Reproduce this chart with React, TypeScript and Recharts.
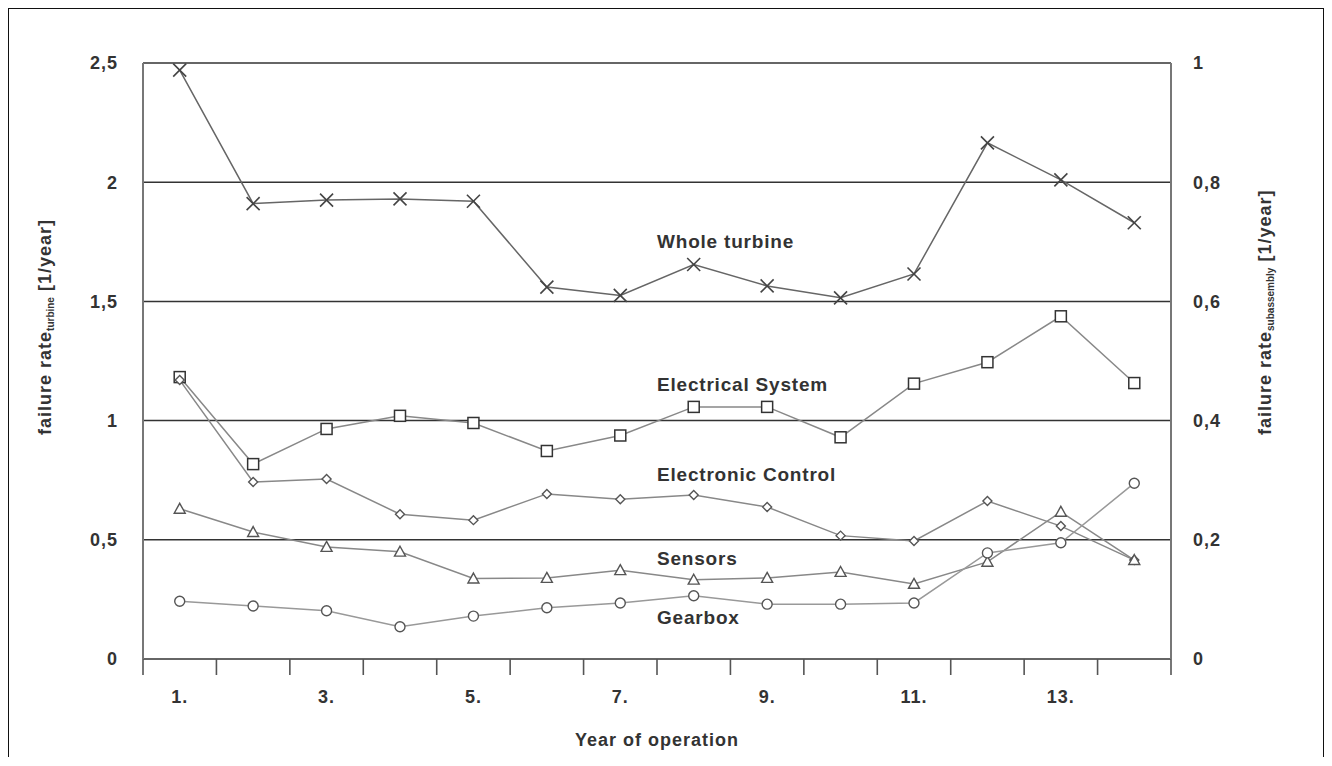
import React from "react";
import { LineChart, Line, XAxis, YAxis, CartesianGrid, ReferenceDot } from "recharts";

const years = [1, 2, 3, 4, 5, 6, 7, 8, 9, 10, 11, 12, 13, 14];
const xTickYears = [1, 3, 5, 7, 9, 11, 13];
const leftTicks = [0, 0.5, 1, 1.5, 2, 2.5];
const rightTicks = [0, 0.2, 0.4, 0.6, 0.8, 1];

// left axis [1/year]
const wholeTurbine = [2.47, 1.91, 1.925, 1.93, 1.92, 1.56, 1.525, 1.655, 1.565, 1.515, 1.615, 2.165, 2.01, 1.83];
// right axis [1/year]
const electricalSystem = [0.473, 0.327, 0.386, 0.408, 0.396, 0.349, 0.375, 0.423, 0.423, 0.372, 0.462, 0.498, 0.575, 0.463];
const electronicControl = [0.468, 0.297, 0.302, 0.243, 0.233, 0.277, 0.268, 0.275, 0.255, 0.207, 0.198, 0.265, 0.223, 0.166];
const sensors = [0.252, 0.213, 0.188, 0.18, 0.135, 0.136, 0.149, 0.133, 0.136, 0.146, 0.126, 0.163, 0.247, 0.166];
const gearbox = [0.097, 0.089, 0.081, 0.054, 0.072, 0.086, 0.094, 0.106, 0.092, 0.092, 0.094, 0.178, 0.195, 0.295];

const data = years.map((year, i) => ({
  year,
  whole: wholeTurbine[i],
  electrical: electricalSystem[i],
  electronic: electronicControl[i],
  sensors: sensors[i],
  gearbox: gearbox[i],
}));

const bounds = [...years.map((y) => y - 0.5), years[years.length - 1] + 0.5];

const FONT = "'Liberation Sans', Arial, sans-serif";
const TXT = "#333";
const comma = (v: number) => String(v).replace(".", ",");

const tickStyle = { fill: TXT, fontSize: 18, fontWeight: "bold", fontFamily: FONT, letterSpacing: 1 };

const CrossDot = (p: any) => {
  const { cx, cy, index } = p;
  if (cx == null || cy == null) return <g key={`c${index}`} />;
  const s = 6.5;
  return (
    <g key={`c${index}`}>
      <line x1={cx - s} y1={cy - s} x2={cx + s} y2={cy + s} stroke="#444" strokeWidth={1.6} />
      <line x1={cx - s} y1={cy + s} x2={cx + s} y2={cy - s} stroke="#444" strokeWidth={1.6} />
    </g>
  );
};

const SquareDot = (p: any) => {
  const { cx, cy, index } = p;
  const s = 5.5;
  return <rect key={`s${index}`} x={cx - s} y={cy - s} width={2 * s} height={2 * s} fill="#fff" stroke="#333" strokeWidth={1.5} />;
};

const DiamondDot = (p: any) => {
  const { cx, cy, index } = p;
  const s = 4.5;
  return (
    <polygon key={`d${index}`} points={`${cx},${cy - s} ${cx + s},${cy} ${cx},${cy + s} ${cx - s},${cy}`} fill="#fff" stroke="#555" strokeWidth={1.4} />
  );
};

const TriangleDot = (p: any) => {
  const { cx, cy, index } = p;
  const s = 5.5;
  return (
    <polygon key={`t${index}`} points={`${cx},${cy - s} ${cx + s},${cy + s * 0.8} ${cx - s},${cy + s * 0.8}`} fill="#fff" stroke="#555" strokeWidth={1.4} />
  );
};

const CircleDot = (p: any) => {
  const { cx, cy, index } = p;
  return <circle key={`o${index}`} cx={cx} cy={cy} r={5} fill="#fff" stroke="#555" strokeWidth={1.4} />;
};

const annoLabel = (text: string) => (props: any) => {
  const vb = props.viewBox;
  return (
    <text x={vb.x + 1} y={vb.y + 1} dominantBaseline="central" textAnchor="start" fill={TXT} fontSize={19} fontWeight="bold" fontFamily={FONT} letterSpacing={0.8}>
      {text}
    </text>
  );
};

const VLabel = ({ x, y, sub }: any) => (
  <text x={x} y={y} transform={`rotate(-90, ${x}, ${y})`} textAnchor="start" dominantBaseline="central" fill={TXT} fontSize={18} fontWeight="bold" fontFamily={FONT} letterSpacing={1}>
    failure rate
    <tspan fontSize={10} dy={5} letterSpacing={0}>{sub}</tspan>
    <tspan dy={-5}> [1/year]</tspan>
  </text>
);

// boundary tick marks drawn by the tick renderer (no text)
const BoundTick = (p: any) => {
  const { x, index } = p;
  return <line key={`b${index}`} x1={x} x2={x} y1={p.y - 18} y2={p.y - 2} stroke="#555" strokeWidth={1.6} />;
};

export default function App() {
  return (
    <div
      style={{
        position: "relative",
        width: 1318,
        height: 750,
        margin: "-1px 0 0 -1px",
        borderTop: "2px solid #111",
        borderLeft: "2px solid #111",
        borderRight: "2px solid #111",
        boxSizing: "border-box",
        background: "#fff",
      }}
    >
      <LineChart width={1314} height={745} data={data} margin={{ top: 54, right: 28, left: 10, bottom: 4 }}>
        <CartesianGrid yAxisId="left" xAxisId="years" vertical={false} stroke="#333" strokeWidth={1.5} />
        <XAxis
          xAxisId="bounds"
          dataKey="year"
          type="number"
          domain={[0.5, 14.5]}
          ticks={bounds}
          tick={BoundTick}
          tickSize={0}
          tickMargin={18}
          tickLine={false}
          height={1}
          axisLine={{ stroke: "#666", strokeWidth: 2 }}
        />
        <XAxis
          xAxisId="years"
          dataKey="year"
          type="number"
          domain={[0.5, 14.5]}
          ticks={xTickYears}
          tickFormatter={(v) => `${v}.`}
          axisLine={false}
          tickLine={false}
          tickSize={0}
          tickMargin={30}
          height={90}
          tick={tickStyle}
          label={{
            content: (p: any) => (
              <text x={p.viewBox.x + p.viewBox.width / 2} y={p.viewBox.y + 80} textAnchor="middle" dominantBaseline="central" fill={TXT} fontSize={18} fontWeight="bold" fontFamily={FONT} letterSpacing={1}>
                Year of operation
              </text>
            ),
          }}
        />
        <YAxis
          yAxisId="left"
          orientation="left"
          width={124}
          domain={[0, 2.5]}
          ticks={leftTicks}
          tickFormatter={comma}
          tickLine={false}
          tickSize={0}
          tickMargin={25}
          axisLine={{ stroke: "#777", strokeWidth: 2 }}
          tick={tickStyle}
          label={{ content: (p: any) => <VLabel x={p.viewBox.x + 26} y={426} sub="turbine" /> }}
        />
        <YAxis
          yAxisId="right"
          orientation="right"
          width={124}
          domain={[0, 1]}
          ticks={rightTicks}
          tickFormatter={comma}
          tickLine={false}
          tickSize={0}
          tickMargin={22}
          axisLine={{ stroke: "#777", strokeWidth: 2 }}
          tick={{ ...tickStyle, textAnchor: "start" }}
          label={{ content: (p: any) => <VLabel x={p.viewBox.x + 94} y={426} sub="subassembly" /> }}
        />

        <Line xAxisId="years" yAxisId="left" dataKey="whole" stroke="#666" strokeWidth={1.5} dot={CrossDot} activeDot={false} isAnimationActive={false} />
        <Line xAxisId="years" yAxisId="right" dataKey="electrical" stroke="#888" strokeWidth={1.5} dot={SquareDot} activeDot={false} isAnimationActive={false} />
        <Line xAxisId="years" yAxisId="right" dataKey="electronic" stroke="#888" strokeWidth={1.5} dot={DiamondDot} activeDot={false} isAnimationActive={false} />
        <Line xAxisId="years" yAxisId="right" dataKey="sensors" stroke="#888" strokeWidth={1.5} dot={TriangleDot} activeDot={false} isAnimationActive={false} />
        <Line xAxisId="years" yAxisId="right" dataKey="gearbox" stroke="#999" strokeWidth={1.5} dot={CircleDot} activeDot={false} isAnimationActive={false} />

        <ReferenceDot xAxisId="years" yAxisId="left" x={7.5} y={1.75} r={1} fill="none" stroke="none" label={{ content: annoLabel("Whole turbine") }} />
        <ReferenceDot xAxisId="years" yAxisId="left" x={7.5} y={1.15} r={1} fill="none" stroke="none" label={{ content: annoLabel("Electrical System") }} />
        <ReferenceDot xAxisId="years" yAxisId="left" x={7.5} y={0.772} r={1} fill="none" stroke="none" label={{ content: annoLabel("Electronic Control") }} />
        <ReferenceDot xAxisId="years" yAxisId="left" x={7.5} y={0.42} r={1} fill="none" stroke="none" label={{ content: annoLabel("Sensors") }} />
        <ReferenceDot xAxisId="years" yAxisId="left" x={7.5} y={0.172} r={1} fill="none" stroke="none" label={{ content: annoLabel("Gearbox") }} />
      </LineChart>
    </div>
  );
}
